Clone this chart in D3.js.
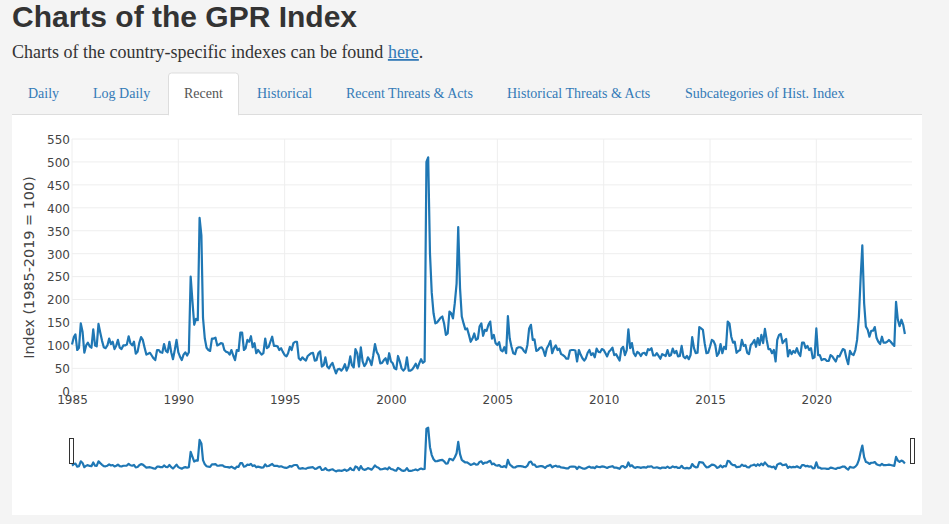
<!DOCTYPE html>
<html>
<head>
  <meta charset="utf-8">
  <script src="https://d3js.org/d3.v7.min.js"></script>
  <style>
    html, body { margin: 0; padding: 0; background: #f4f4f4; overflow: hidden; }
    svg { display: block; }
    .grid line { stroke: #eee; stroke-width: 1; }
    .axis text { font-family: "DejaVu Sans", Verdana, sans-serif; font-size: 12px; fill: #444; }
    .axis path, .axis line { display: none; }
  </style>
</head>
<body>
  <svg id="page" width="949" height="524"></svg>
  <script>
    "use strict";

    /* Monthly GPR values, one block per period */
    var gpr1985s = [
      102,118,124,90,95,148,130,84,100,106,98,95,
      135,100,98,147,128,110,96,94,100,115,103,108,
      92,100,112,95,92,100,100,102,120,105,100,108,
      82,86,105,118,112,95,80,82,84,78,72,68,
      90,90,85,84,103,88,85,108,85,70,90,112
    ];
    var gpr1990s = [
      85,75,68,80,85,78,85,250,195,145,158,155,
      378,340,160,115,95,90,88,115,115,117,100,102,
      105,104,90,86,85,80,90,78,68,90,88,128,
      128,90,94,112,108,120,96,105,83,90,85,80,
      83,115,94,97,108,119,99,99,98,90,94,86,
      79,76,83,97,90,105,108,108,72,68,74,70,
      67,77,80,83,84,67,68,83,87,54,57,74,
      54,50,57,62,50,39,48,49,45,50,59,45,
      54,76,57,52,92,83,54,96,65,55,61,74,
      68,57,77,103,86,79,61,62,68,72,60,83
    ];
    var gpr2000s = [
      65,61,50,48,77,65,50,45,50,74,45,45,
      48,54,60,50,61,70,62,65,500,510,300,215,
      170,148,150,155,160,163,148,123,126,174,170,159,
      192,235,358,225,163,148,135,137,123,108,115,126,
      112,115,141,148,121,134,132,145,152,115,123,105,
      101,107,90,87,96,83,164,115,97,83,81,94,
      96,96,94,88,84,101,137,145,112,113,88,90,
      95,96,90,77,94,101,110,83,94,100,90,93,
      81,79,76,71,71,89,90,90,89,65,90,80,
      72,67,72,84,90,79,83,74,93,86,85,92
    ];
    var gpr2010s = [
      90,83,76,86,90,95,79,81,74,67,93,97,
      79,90,135,94,105,83,77,86,83,77,83,84,
      79,92,90,94,78,78,83,77,71,81,79,77,
      90,77,79,93,83,88,76,77,99,76,72,77,
      70,79,118,94,83,84,140,137,134,105,83,84,
      97,112,110,101,77,83,103,83,97,92,152,148,
      119,106,108,84,88,90,112,99,101,84,81,101,
      105,112,97,116,101,123,105,136,112,92,92,83,
      90,65,112,123,125,105,110,114,76,90,81,88,
      84,94,83,77,106,106,94,99,90,94,72,74
    ];
    var gpr2020s = [
      137,79,79,68,70,70,66,66,79,76,70,65,
      77,76,84,92,90,72,59,88,81,79,90,112,
      163,250,318,192,141,134,119,132,132,140,116,108,
      103,119,106,106,108,112,108,103,99,195,156,142,
      156,145,125
    ];
    var yTicks = [0,50,100,150,200,250,300,350,400,450,500,550];
    var xTickYears = [1985,1990,1995,2000,2005,2010,2015,2020];
    var tabNames = ["Daily","Log Daily","Recent","Historical","Recent Threats & Acts","Historical Threats & Acts","Subcategories of Hist. Index"];
    var tabLeft = [28,93,184,257,346,507,685];

    var values = gpr1985s.concat(gpr1990s, gpr2000s, gpr2010s, gpr2020s);
    var months = d3.utcMonth.range(new Date(Date.UTC(1985,0,1)), new Date(Date.UTC(2030,0,1)));
    var series = values.map(function(v, i) { return { date: months[i], value: v }; });

    var svg = d3.select("#page");

    /* Page header */
    svg.append("text").attr("x", 12).attr("y", 27)
      .style("font", "bold 30px 'Liberation Sans', Arial, sans-serif").style("fill", "#333")
      .text("Charts of the GPR Index");

    var intro = svg.append("text").attr("x", 12).attr("y", 58)
      .style("font", "18px 'Liberation Serif', 'Times New Roman', serif").style("fill", "#333");
    intro.append("tspan").text("Charts of the country-specific indexes can be found ");
    intro.append("tspan").text("here").style("fill", "#337ab7").style("text-decoration", "underline");
    intro.append("tspan").text(".");

    /* White panel and tabs */
    svg.append("rect").attr("x", 12).attr("y", 114).attr("width", 910).attr("height", 401).attr("fill", "#fff");
    svg.append("line").attr("x1", 12).attr("x2", 922).attr("y1", 114.5).attr("y2", 114.5).attr("stroke", "#ddd");
    svg.append("path").attr("d", "M168.5,115V76a3,3 0 0 1 3,-3H235.5a3,3 0 0 1 3,3V115Z")
      .attr("fill", "#fff").attr("stroke", "#ddd");
    svg.append("line").attr("x1", 169).attr("x2", 238).attr("y1", 115).attr("y2", 115).attr("stroke", "#fff").attr("stroke-width", 2);

    svg.selectAll(".tab").data(tabNames).enter().append("text")
      .attr("class", "tab")
      .attr("x", function(d, i) { return tabLeft[i]; })
      .attr("y", 98)
      .style("font", "14px 'Liberation Serif', 'Times New Roman', serif")
      .style("fill", function(d) { return d === "Recent" ? "#555" : "#337ab7"; })
      .text(function(d) { return d; });

    /* Main chart scales */
    var x = d3.scaleUtc()
      .domain([new Date(Date.UTC(1985,0,1)), new Date(Date.UTC(2024,6,1))])
      .range([72, 912]);
    var y = d3.scaleLinear().domain([0, 550]).range([391.3, 139]);
    var ySlider = d3.scaleLinear().domain([0, 550]).range([475, 424]);
    var xTicks = xTickYears.map(function(yr) { return new Date(Date.UTC(yr,0,1)); });

    /* Grid */
    var grid = svg.append("g").attr("class", "grid");
    grid.selectAll(".h").data(yTicks).enter().append("line")
      .attr("x1", 72).attr("x2", 912)
      .attr("y1", function(d) { return y(d); }).attr("y2", function(d) { return y(d); });
    grid.selectAll(".v").data(xTicks).enter().append("line")
      .attr("y1", 139).attr("y2", 391.3)
      .attr("x1", function(d) { return x(d); }).attr("x2", function(d) { return x(d); });

    /* Axes */
    svg.append("g").attr("class", "axis").attr("transform", "translate(72,0.5)")
      .call(d3.axisLeft(y).tickValues(yTicks).tickSize(0).tickPadding(2));
    svg.append("g").attr("class", "axis").attr("transform", "translate(0,391.3)")
      .call(d3.axisBottom(x).tickValues(xTicks).tickSize(0).tickPadding(4).tickFormat(d3.utcFormat("%Y")));

    svg.append("text").attr("transform", "translate(34,267.5) rotate(-90)")
      .attr("text-anchor", "middle")
      .style("font", "14.4px 'DejaVu Sans', Verdana, sans-serif").style("fill", "#444")
      .text("Index (1985-2019 = 100)");

    /* Main line */
    var line = d3.line().x(function(d) { return x(d.date); }).y(function(d) { return y(d.value); });
    svg.append("path").datum(series).attr("d", line)
      .attr("fill", "none").attr("stroke", "#1f77b4").attr("stroke-width", 2.2).attr("stroke-linejoin", "round");

    /* Range slider */
    var sliderLine = d3.line().x(function(d) { return x(d.date); }).y(function(d) { return ySlider(d.value); });
    svg.append("path").datum(series).attr("d", sliderLine)
      .attr("fill", "none").attr("stroke", "#1f77b4").attr("stroke-width", 2.2).attr("stroke-linejoin", "round");

    svg.selectAll(".handle").data([69.5, 910.5]).enter().append("rect")
      .attr("class", "handle")
      .attr("x", function(d) { return d; }).attr("y", 438.5)
      .attr("width", 4).attr("height", 25)
      .attr("fill", "#fff").attr("stroke", "#333").attr("stroke-width", 1);
  </script>
</body>
</html>
